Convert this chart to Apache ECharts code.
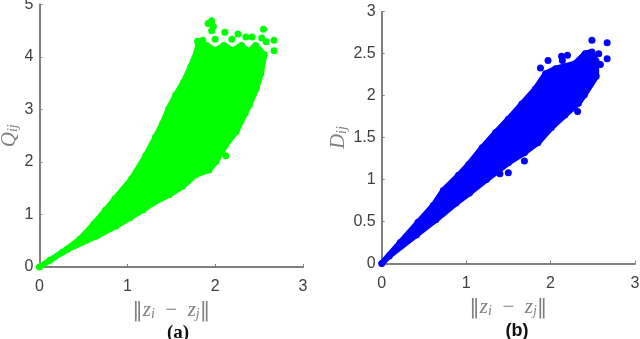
<!DOCTYPE html>
<html>
<head>
<meta charset="utf-8">
<style>
    html, body { margin: 0; padding: 0; background: #fff; }
    #main { width: 640px; height: 339px; }
</style>
<script src="https://cdn.jsdelivr.net/npm/echarts@6/dist/echarts.min.js"></script>
</head>
<body>
<div id="main"></div>
<script>
// outline of each cloud, then the loose dots round it
const cloudQ = [
    [0, 0], [0.26, 0.28], [0.46, 0.53], [0.62, 0.82], [0.75, 1.08], [0.86, 1.3], [1.05, 1.68],
    [1.21, 2.12], [1.32, 2.47], [1.4, 2.73], [1.47, 3.01], [1.55, 3.27], [1.64, 3.52], [1.72, 3.81],
    [1.79, 4.09], [1.81, 4.25], [1.9, 4.22], [2.0, 4.12], [2.1, 4.22], [2.2, 4.12], [2.3, 4.22],
    [2.38, 4.1], [2.46, 4.22], [2.56, 4.04], [2.52, 3.69], [2.47, 3.41], [2.39, 3.09], [2.34, 2.93],
    [2.24, 2.58], [2.12, 2.33], [2.01, 2.01], [1.93, 1.85], [1.78, 1.76], [1.63, 1.54], [1.48, 1.38],
    [1.29, 1.22], [1.18, 1.09], [1.03, 0.94], [0.87, 0.78], [0.65, 0.59], [0.31, 0.33], [0.12, 0.13]
];
const dotsQ = [
    [1.96, 4.69], [1.92, 4.64], [1.98, 4.58], [1.96, 4.5], [2.11, 4.47], [2.26, 4.44], [2.55, 4.53],
    [2.67, 4.32], [2.67, 4.12], [2.58, 4.29], [2.53, 4.36], [2.42, 4.38], [2.35, 4.38], [2.19, 4.34],
    [2.0, 4.34], [1.86, 4.32], [1.8, 4.3], [2.12, 2.12]
];
const cloudD = [
    [0, 0], [0.22, 0.25], [0.43, 0.49], [0.61, 0.69], [0.73, 0.87], [0.91, 1.05], [1.03, 1.18],
    [1.19, 1.38], [1.35, 1.56], [1.5, 1.72], [1.66, 1.9], [1.82, 2.08], [1.94, 2.26], [2.06, 2.32],
    [2.29, 2.38], [2.41, 2.5], [2.49, 2.52], [2.54, 2.41], [2.54, 2.23], [2.4, 2.01], [2.33, 1.91],
    [2.17, 1.77], [2.01, 1.62], [1.85, 1.44], [1.69, 1.32], [1.5, 1.2], [1.24, 1.0], [1.04, 0.84],
    [0.88, 0.72], [0.64, 0.52], [0.41, 0.34], [0.09, 0.09]
];
const dotsD = [
    [2.49, 2.66], [2.67, 2.63], [2.67, 2.44], [2.2, 2.48], [2.13, 2.47], [2.14, 2.42], [1.97, 2.42],
    [1.88, 2.33], [2.57, 2.5], [2.59, 2.37], [2.32, 1.81], [1.69, 1.22], [1.5, 1.08], [1.4, 1.07]
];

const tickColor = '#404040';
const axisColor = '#808080';
const mathColor = '#808080';

var mathRich = {
    v: { fontFamily: 'Liberation Serif', fontStyle: 'italic', fontSize: 21, color: mathColor },
    s: { fontFamily: 'Liberation Serif', fontStyle: 'italic', fontSize: 14, color: mathColor, padding: [8, 0, 0, 0] },
    n: { fontFamily: 'Liberation Serif', fontSize: 21, color: mathColor },
    p: { fontFamily: 'DejaVu Serif', fontSize: 21, color: mathColor }
};
const distName = '{p|‖}{v|z}{s|i}{n|  −  }{v|z}{s|j}{p|‖}';

function makeAxis(max, interval, name, nameGap, isX) {
    return {
        type: 'value',
        min: 0,
        max: max,
        interval: interval,
        name: name,
        nameLocation: 'middle',
        nameGap: nameGap,
        nameTextStyle: { rich: mathRich },
        splitLine: { show: false },
        axisLine: { onZero: false, lineStyle: { color: axisColor, width: 2 } },
        axisTick: { inside: true, length: 3, lineStyle: { color: axisColor, width: 1 } },
        axisLabel: {
            color: tickColor,
            fontFamily: 'Liberation Sans',
            fontSize: 16,
            margin: isX ? 12 : 6,
            hideOverlap: false,
            showMaxLabel: true,
            showMinLabel: true
        }
    };
}

function cloudSeries(idx, points, color) {
    return {
        type: 'custom',
        xAxisIndex: idx,
        yAxisIndex: idx,
        clip: false,
        silent: true,
        data: points,
        renderItem: function (params, api) {
            if (params.dataIndex !== 0) return null;
            return {
                type: 'polygon',
                shape: { points: points.map(function (p) { return api.coord(p); }) },
                style: { fill: color, stroke: color, lineWidth: 6, lineJoin: 'round' }
            };
        }
    };
}

function dotSeries(idx, points, color) {
    return {
        type: 'scatter',
        xAxisIndex: idx,
        yAxisIndex: idx,
        clip: false,
        silent: true,
        symbolSize: 7,
        itemStyle: { color: color, opacity: 1 },
        data: points
    };
}

var myChart = echarts.init(document.getElementById('main'), null, { renderer: 'canvas' });

var option = {
    animation: false,
    backgroundColor: '#fff',
    title: [
        {
            text: '(a)', left: 173, top: 319, textAlign: 'center',
            textStyle: { fontFamily: 'Liberation Serif', fontWeight: 'bold', fontSize: 19, color: '#111' }
        },
        {
            text: '(b)', left: 512, top: 317, textAlign: 'center',
            textStyle: { fontFamily: 'Liberation Sans', fontWeight: 'bold', fontSize: 18, color: '#111' }
        }
    ],
    grid: [
        { left: 39.5, right: 337, top: 4.5, bottom: 72, outerBoundsMode: 'none' },
        { left: 381.7, right: 5, top: 11.7, bottom: 75.5, outerBoundsMode: 'none' }
    ],
    xAxis: [
        Object.assign(makeAxis(3, 1, distName, 32, true), { gridIndex: 0 }),
        Object.assign(makeAxis(3, 1, distName, 33, true), { gridIndex: 1 })
    ],
    yAxis: [
        Object.assign(makeAxis(5, 1, '{v|Q}{s|ij}', 18, false), { gridIndex: 0 }),
        Object.assign(makeAxis(3, 0.5, '{v|D}{s|ij}', 30, false), { gridIndex: 1 })
    ],
    series: [
        cloudSeries(0, cloudQ, '#00ff00'),
        dotSeries(0, cloudQ, '#00ff00'),
        dotSeries(0, dotsQ, '#00ff00'),
        cloudSeries(1, cloudD, '#0000ff'),
        dotSeries(1, cloudD, '#0000ff'),
        dotSeries(1, dotsD, '#0000ff')
    ]
};

myChart.setOption(option);
</script>
</body>
</html>
